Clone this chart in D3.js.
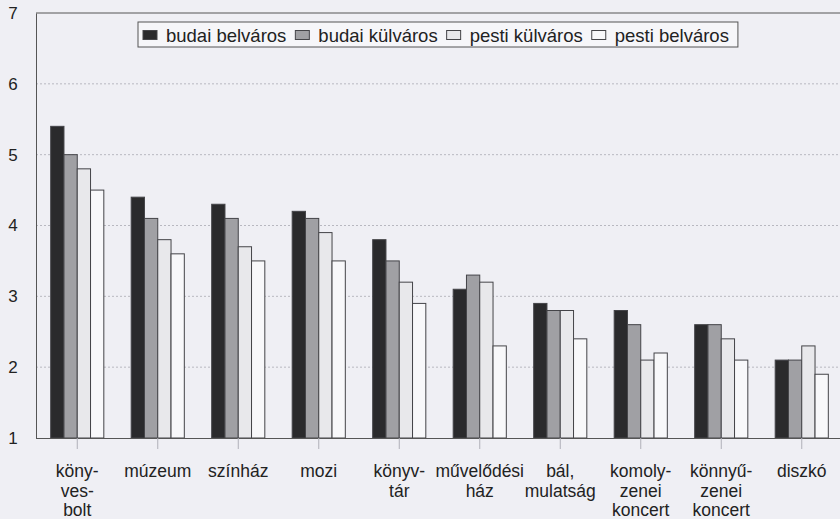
<!DOCTYPE html>
<html lang="hu">
<head>
<meta charset="utf-8">
<title>Szórakozóhelyek</title>
<script src="https://d3js.org/d3.v7.min.js"></script>
<style>
  body { margin: 0; background: #efeff4; }
  svg { display: block; font-family: "Liberation Sans", Arial, sans-serif; }
  .grid line { stroke: #b8b8c0; stroke-dasharray: 2,2; }
</style>
</head>
<body>
<div id="chart"></div>
<script>

// categories (x labels, split into lines)
var categories = ["könyvesbolt", "múzeum", "színház", "mozi", "könyvtár",
  "művelődési ház", "bál, mulatság", "komolyzenei koncert", "könnyűzenei koncert", "diszkó"];
var labelLines = [["köny-", "ves-", "bolt"], ["múzeum"], ["színház"], ["mozi"], ["könyv-", "tár"],
  ["művelődési", "ház"], ["bál,", "mulatság"], ["komoly-", "zenei", "koncert"],
  ["könnyű-", "zenei", "koncert"], ["diszkó"]];

var seriesNames = ["budai belváros", "budai külváros", "pesti külváros", "pesti belváros"];

var budaiBelvaros = [5.4, 4.4, 4.3, 4.2, 3.8, 3.1, 2.9, 2.8, 2.6, 2.1];
var budaiKulvaros = [5.0, 4.1, 4.1, 4.1, 3.5, 3.3, 2.8, 2.6, 2.6, 2.1];
var pestiKulvaros = [4.8, 3.8, 3.7, 3.9, 3.2, 3.2, 2.8, 2.1, 2.4, 2.3];
var pestiBelvaros = [4.5, 3.6, 3.5, 3.5, 2.9, 2.3, 2.4, 2.2, 2.1, 1.9];

var yTicks = [1, 2, 3, 4, 5, 6, 7];

var series = [budaiBelvaros, budaiKulvaros, pestiKulvaros, pestiBelvaros];
var fills = ["#2a2a2c", "#a0a0a4", "#e8e8eb", "#f8f8fa"];

var width = 840, height = 519;
var margin = {top: 13, left: 36, bottom: 81};

var svg = d3.select("#chart").append("svg")
    .attr("width", width)
    .attr("height", height);

var x = d3.scaleBand()
    .domain(categories)
    .range([margin.left + 1, margin.left + 806])
    .paddingInner(0.34)
    .paddingOuter(0.17);

var xs = d3.scaleBand()
    .domain(d3.range(series.length))
    .range([0, x.bandwidth()]);

var y = d3.scaleLinear()
    .domain([1, 7])
    .range([height - margin.bottom, margin.top]);

// dashed gridlines
svg.append("g")
    .attr("class", "grid")
  .selectAll("line")
  .data(yTicks.slice(1, -1))
  .enter().append("line")
    .attr("x1", margin.left)
    .attr("x2", width)
    .attr("y1", function(d) { return y(d); })
    .attr("y2", function(d) { return y(d); });

// top border
svg.append("line")
    .attr("x1", margin.left).attr("x2", width)
    .attr("y1", y(7)).attr("y2", y(7))
    .attr("stroke", "#555");

// bars
series.forEach(function(vals, i) {
  svg.append("g")
    .selectAll("rect")
    .data(vals)
    .enter().append("rect")
      .attr("x", function(d, j) { return x(categories[j]) + xs(i); })
      .attr("y", function(d) { return y(d); })
      .attr("width", xs.bandwidth())
      .attr("height", function(d) { return y(1) - y(d); })
      .attr("fill", fills[i])
      .attr("stroke", "#444448")
      .attr("stroke-width", 1);
});

// y axis
var yAxis = svg.append("g")
    .attr("transform", "translate(" + margin.left + ",0)")
    .call(d3.axisLeft(y).tickValues(yTicks).tickSize(0).tickPadding(16).tickFormat(d3.format("d")));
yAxis.select(".domain").attr("stroke", "#555");
yAxis.selectAll("text")
    .attr("font-size", 17)
    .attr("fill", "#222")
    .attr("text-anchor", "middle")
    .attr("x", -23);

// x axis
var xAxis = svg.append("g")
    .attr("transform", "translate(0," + y(1) + ")")
    .call(d3.axisBottom(x).tickSize(11).tickFormat(""));
xAxis.select(".domain").attr("stroke", "#555").attr("d", "M" + margin.left + ",0.5H" + width);
xAxis.selectAll(".tick line").attr("stroke", "#b0b0b8");

var labels = svg.append("g")
  .selectAll("text")
  .data(categories)
  .enter().append("text")
    .attr("x", function(d) { return x(d) + x.bandwidth() / 2; })
    .attr("y", y(1) + 39)
    .attr("text-anchor", "middle")
    .attr("font-size", 17.5)
    .attr("fill", "#222");
labels.each(function(d, i) {
  var t = d3.select(this);
  labelLines[i].forEach(function(line, k) {
    t.append("tspan")
      .attr("x", x(d) + x.bandwidth() / 2)
      .attr("dy", k === 0 ? 0 : 19.5)
      .text(line);
  });
});

// legend
var legend = svg.append("g");
var legendBox = legend.append("rect")
    .attr("x", 138).attr("y", 22)
    .attr("width", 604).attr("height", 25)
    .attr("fill", "#f6f6f9")
    .attr("stroke", "#555");
var lx = 143;
seriesNames.forEach(function(name, i) {
  legend.append("rect")
    .attr("x", lx).attr("y", 30.5)
    .attr("width", 14).attr("height", 9)
    .attr("fill", fills[i])
    .attr("stroke", "#444448");
  var t = legend.append("text")
    .attr("x", lx + 23).attr("y", 41.5)
    .attr("font-size", 18.5)
    .attr("fill", "#222")
    .text(name);
  lx += 23 + t.node().getComputedTextLength() + 9;
});
legendBox.attr("width", lx - 138);

</script>
</body>
</html>
